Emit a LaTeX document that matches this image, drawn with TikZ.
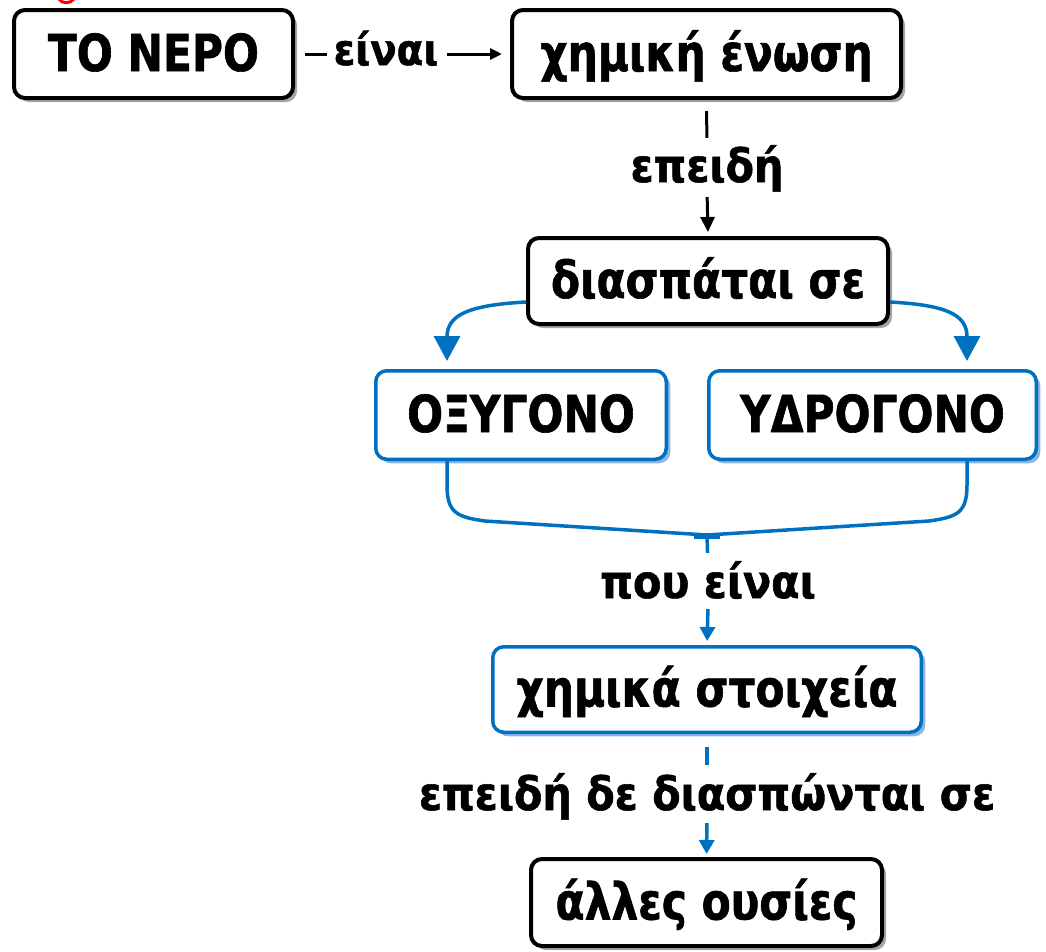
\documentclass[tikz,border=0pt]{standalone}
\usepackage{fontspec}
\setmainfont{DejaVu Sans}[FakeStretch=0.83, BoldFeatures={FakeBold=1.2}]
\newfontfamily\lblfont{DejaVu Sans}[FakeStretch=0.9, BoldFeatures={FakeBold=1.2}]
\usetikzlibrary{arrows.meta,shadows,calc}
\definecolor{mblue}{HTML}{0070C0}
\definecolor{mshade}{HTML}{8DB4E2}
\begin{document}
\begin{tikzpicture}[x=1pt,y=-1pt,
  boxbase/.style={rectangle, rounded corners=11pt, fill=white, inner sep=0pt,
    font=\fontsize{51}{60}\selectfont\bfseries, text height=34pt, text depth=0pt},
  blackbox/.style={boxbase, draw=black, line width=4pt,
    drop shadow={shadow xshift=4pt, shadow yshift=-4pt, fill=gray!70, opacity=1}},
  bluebox/.style={boxbase, draw=mblue, line width=3.5pt,
    drop shadow={shadow xshift=4pt, shadow yshift=-4pt, fill=mshade, opacity=1}},
  lbl/.style={inner sep=0pt, font=\lblfont\fontsize{46}{54}\selectfont\bfseries,
    text height=30pt, text depth=8pt},
  bline/.style={draw=black, line width=3pt},
  uline/.style={draw=mblue, line width=3.5pt},
  btip/.style={-{Triangle[length=15pt,width=14pt]}},
  stip/.style={-{Triangle[length=12pt,width=11pt]}},
  utip/.style={-{Triangle[length=14pt,width=15pt]}},
  ctip/.style={-{Triangle[length=25pt,width=26pt]}}
]
\useasboundingbox (0,0) rectangle (1046,951);

% small red stroke at the top edge
\draw[red, line width=3pt] (59,-1) .. controls (62,4) and (70,4) .. (74,-1);

% boxes
\node[blackbox, minimum width=279pt, minimum height=88pt] (nero) at (153.5,54) {ΤΟ ΝΕΡΟ};
\node[blackbox, minimum width=389pt, minimum height=88pt] (enosi) at (706.5,54) {χημική ένωση};
\node[blackbox, minimum width=360pt, minimum height=86pt] (diasp) at (708,281) {διασπάται σε};
\node[bluebox, minimum width=290.5pt, minimum height=88.5pt] (oxy) at (521,415) {ΟΞΥΓΟΝΟ};
\node[bluebox, minimum width=327.5pt, minimum height=88.5pt] (hydro) at (872.5,415) {ΥΔΡΟΓΟΝΟ};
\node[bluebox, minimum width=428.5pt, minimum height=85.5pt] (stoix) at (707,689.5) {χημικά στοιχεία};
\node[blackbox, minimum width=351pt, minimum height=87pt] (alles) at (706.5,902.5) {άλλες ουσίες};

% connector labels
\node[lbl, font=\lblfont\fontsize{43}{50}\selectfont\bfseries] (l1) at (386,54) {είναι};
\node[lbl] (l2) at (707,171) {επειδή};
\node[lbl] (l3) at (708,587) {που είναι};
\node[lbl] (l4) at (707,799) {επειδή δε διασπώνται σε};

% ΤΟ ΝΕΡΟ -- είναι --> χημική ένωση
\draw[bline, shorten <=10pt, shorten >=6pt] (nero.east) -- (l1.west);
\draw[bline, stip, shorten <=8pt, shorten >=8pt] (l1.east) -- (enosi.west);

% χημική ένωση -- επειδή --> διασπάται σε
\draw[bline, shorten <=11pt, shorten >=14pt] (enosi.south) -- (l2.north);
\draw[bline, btip, shorten <=7pt, shorten >=4pt] (l2.south) -- (diasp.north);

% split into the two elements
\draw[uline, ctip, shorten >=8pt] ([yshift=-21pt]diasp.west)
  .. controls +(-55,3) and +(0,-55) .. ([xshift=-74pt]oxy.north);
\draw[uline, ctip, shorten >=8pt] ([yshift=-21pt]diasp.east)
  .. controls +(55,3) and +(0,-55) .. ([xshift=94.5pt]hydro.north);

% bracket joining both elements
\coordinate (jn) at (707,535);
\draw[uline] ([xshift=-74pt]oxy.south) -- ++(0,24)
  .. controls +(0,28) and +(-28,-4) .. ++(38,36) -- (jn);
\draw[uline] ([xshift=94.5pt]hydro.south) -- ++(0,24)
  .. controls +(0,28) and +(28,-4) .. ++(-38,36) -- (jn);
\draw[uline] ([shift={(-13pt,-2pt)}]jn) -- ([shift={(13pt,-2pt)}]jn);

% -- που είναι --> χημικά στοιχεία
\draw[uline, shorten >=15pt] (jn) -- (l3.north);
\draw[uline, utip, shorten <=3pt, shorten >=4pt] (l3.south) -- (stoix.north);

% χημικά στοιχεία -- επειδή δε διασπώνται σε --> άλλες ουσίες
\draw[uline, shorten <=13pt, shorten >=15pt] (stoix.south) -- (l4.north);
\draw[uline, utip, shorten <=5pt, shorten >=3pt] (l4.south) -- (alles.north);
\end{tikzpicture}
\end{document}
